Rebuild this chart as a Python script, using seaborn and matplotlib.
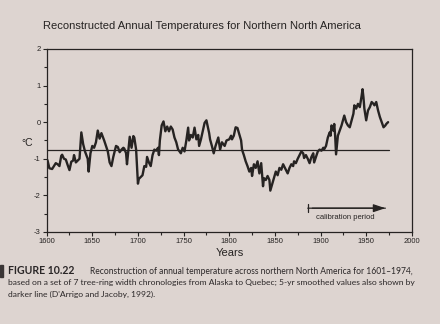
import matplotlib
matplotlib.use("Agg")
import matplotlib.pyplot as plt
import seaborn as sns
import pandas as pd

years = [1600, 1601, 1603, 1606, 1608, 1610, 1612, 1614, 1616, 1617, 1619, 1621, 1623, 1625, 1627, 1629,
         1630, 1632, 1634, 1636, 1638, 1640, 1642, 1645, 1646, 1648, 1650, 1652, 1654, 1656, 1658, 1660,
         1663, 1665, 1667, 1669, 1671, 1673, 1674, 1676, 1678, 1680, 1682, 1684, 1685, 1687, 1688, 1691,
         1693, 1695, 1696, 1698, 1700, 1701, 1703, 1705, 1707, 1709, 1710, 1712, 1714, 1716, 1718, 1720,
         1722, 1723, 1724, 1726, 1728, 1730, 1732, 1734, 1736, 1738, 1740, 1742, 1744, 1745, 1747, 1749,
         1751, 1753, 1755, 1756, 1758, 1760, 1762, 1764, 1766, 1767, 1769, 1771, 1773, 1775, 1778, 1779,
         1781, 1783, 1785, 1788, 1790, 1792, 1795, 1797, 1800, 1802, 1803, 1805, 1807, 1809, 1811, 1813,
         1814, 1816, 1818, 1820, 1822, 1824, 1825, 1827, 1829, 1831, 1833, 1835, 1837, 1838, 1840, 1842,
         1844, 1845, 1847, 1849, 1851, 1853, 1855, 1857, 1859, 1860, 1862, 1864, 1866, 1868, 1870, 1871,
         1873, 1875, 1877, 1879, 1881, 1882, 1884, 1886, 1888, 1890, 1892, 1893, 1895, 1897, 1899, 1901,
         1903, 1904, 1906, 1908, 1910, 1911, 1912, 1914, 1915, 1916, 1917, 1919, 1921, 1923, 1925, 1926,
         1928, 1930, 1932, 1934, 1936, 1937, 1939, 1941, 1943, 1945, 1946, 1947, 1948, 1950, 1952, 1954,
         1956, 1958, 1959, 1961, 1963, 1965, 1967, 1969, 1971, 1972, 1974]
temps = [-1.0, -1.05, -1.26, -1.28, -1.2, -1.12, -1.15, -1.2, -0.92, -0.89, -1.0, -1.02, -1.17, -1.31, -1.08, -1.05,
         -0.9, -1.1, -1.05, -1.0, -0.28, -0.6, -0.8, -1.0, -1.35, -0.85, -0.65, -0.7, -0.55, -0.23, -0.45, -0.3,
         -0.5, -0.65, -0.8, -1.1, -1.2, -0.95, -0.85, -0.65, -0.68, -0.82, -0.75, -0.7, -0.72, -0.85, -1.15, -0.4,
         -0.7, -0.38, -0.42, -0.75, -1.68, -1.55, -1.5, -1.45, -1.2, -1.22, -0.95, -1.1, -1.2, -0.9, -0.75, -0.78,
         -0.7, -0.9, -0.5, -0.09, 0.02, -0.25, -0.12, -0.25, -0.12, -0.2, -0.42, -0.55, -0.75, -0.78, -0.85, -0.7,
         -0.8, -0.5, -0.15, -0.5, -0.35, -0.42, -0.15, -0.47, -0.35, -0.65, -0.47, -0.25, -0.02, 0.05, -0.3, -0.47,
         -0.65, -0.85, -0.65, -0.42, -0.75, -0.55, -0.65, -0.5, -0.47, -0.37, -0.47, -0.37, -0.14, -0.16, -0.33, -0.5,
         -0.75, -0.9, -1.07, -1.2, -1.35, -1.25, -1.47, -1.15, -1.25, -1.07, -1.4, -1.12, -1.75, -1.53, -1.58, -1.47,
         -1.58, -1.87, -1.7, -1.53, -1.35, -1.45, -1.25, -1.3, -1.15, -1.2, -1.3, -1.4, -1.25, -1.15, -1.2, -1.07,
         -1.12, -1.0, -0.9, -0.8, -0.85, -0.98, -0.9, -1.0, -1.12, -0.95, -0.85, -1.1, -0.95, -0.8, -0.75, -0.78,
         -0.7, -0.74, -0.65, -0.42, -0.28, -0.37, -0.09, -0.23, -0.05, -0.37, -0.88, -0.37, -0.23, -0.09, 0.09, 0.18,
         0.0, -0.09, -0.14, 0.05, 0.23, 0.46, 0.37, 0.5, 0.41, 0.72, 0.9, 0.68, 0.37, 0.05, 0.32, 0.41,
         0.55, 0.5, 0.46, 0.55, 0.32, 0.14, 0.0, -0.14, -0.09, -0.05, 0.0]

baseline_value = -0.75
baseline_span = [1600, 1975]
calibration_span = [1886, 1971]
x_ticks = [1600, 1650, 1700, 1750, 1800, 1850, 1900, 1950, 2000]
y_ticks = [-3, -2, -1, 0, 1, 2]

paper = "#ddd4d0"
ink = "#262322"

sns.set_theme(style="ticks")
plt.rcParams["font.family"] = ["Liberation Sans", "DejaVu Sans"]

fig = plt.figure(figsize=(4.4, 3.24), dpi=100, facecolor=paper)
ax = fig.add_axes([0.106, 0.284, 0.830, 0.565])
ax.set_facecolor(paper)

df = pd.DataFrame({"Year": years, "Temp": temps})
sns.lineplot(data=df, x="Year", y="Temp", ax=ax, color=ink, linewidth=1.7)
ax.plot(baseline_span, [baseline_value, baseline_value], color=ink, linewidth=0.9)

ax.set_xlim(1600, 2000)
ax.set_ylim(-3, 2)
ax.set_xticks(x_ticks)
ax.set_xticks(list(range(1625, 2000, 50)), minor=True)
ax.set_yticks(y_ticks)
ax.set_yticks([-2.5, -1.5, -0.5, 0.5, 1.5], minor=True)
ax.set_xticklabels([str(t) for t in x_ticks])
ax.set_yticklabels([str(t) for t in y_ticks])
ax.tick_params(axis="both", which="major", labelsize=5.5, length=3, width=0.8, color=ink, labelcolor=ink, pad=1.5)
ax.tick_params(axis="both", which="minor", length=2, width=0.8, color=ink)
for s in ax.spines.values():
    s.set_color(ink)
    s.set_linewidth(0.9)
ax.set_xlabel("")
ax.set_ylabel("")

# calibration arrow
ax.annotate("", xy=(calibration_span[1], -2.35), xytext=(calibration_span[0], -2.35),
            arrowprops=dict(arrowstyle="|-|,widthA=0.25,widthB=0", color=ink, lw=0.9, shrinkA=0, shrinkB=0))
ax.annotate("", xy=(calibration_span[1], -2.35), xytext=(calibration_span[0] + 5, -2.35),
            arrowprops=dict(arrowstyle="-|>,head_length=0.6,head_width=0.2", color=ink, lw=0.9, shrinkA=0, shrinkB=0))
ax.text(1927, -2.6, "calibration period", fontsize=5.5, color=ink, ha="center", va="center")

fig.text(43 / 440, 1 - 26 / 324, "Reconstructed Annual Temperatures for Northern North America",
         fontsize=8, color=ink, ha="left", va="center")
fig.text(27 / 440, 1 - 143 / 324, "°C", fontsize=7.5, color=ink, ha="center", va="center")
fig.text(230 / 440, 1 - 253 / 324, "Years", fontsize=8, color=ink, ha="center", va="center")

cap_font = ["Lato", "DejaVu Sans"]
cap_color = "#2a2627"
fig.text(8 / 440, 1 - 271 / 324, "FIGURE 10.22", fontsize=7.6, fontweight="bold", color=cap_color,
         family=cap_font, ha="left", va="center")
fig.text(90 / 440, 1 - 271 / 324,
         "Reconstruction of annual temperature across northern North America for 1601–1974,",
         fontsize=6.15, color=cap_color, family=cap_font, ha="left", va="center")
fig.text(8 / 440, 1 - 282.5 / 324,
         "based on a set of 7 tree-ring width chronologies from Alaska to Quebec; 5-yr smoothed values also shown by",
         fontsize=6.1, color=cap_color, family=cap_font, ha="left", va="center")
fig.text(8 / 440, 1 - 294 / 324, "darker line (D'Arrigo and Jacoby, 1992).",
         fontsize=6.1, color=cap_color, family=cap_font, ha="left", va="center")
fig.patches.append(plt.Rectangle((0, 1 - 277 / 324), 3 / 440, 12 / 324, transform=fig.transFigure,
                                 color="#3a3535", zorder=5))

fig.savefig("out.png", dpi=100, facecolor=paper)
